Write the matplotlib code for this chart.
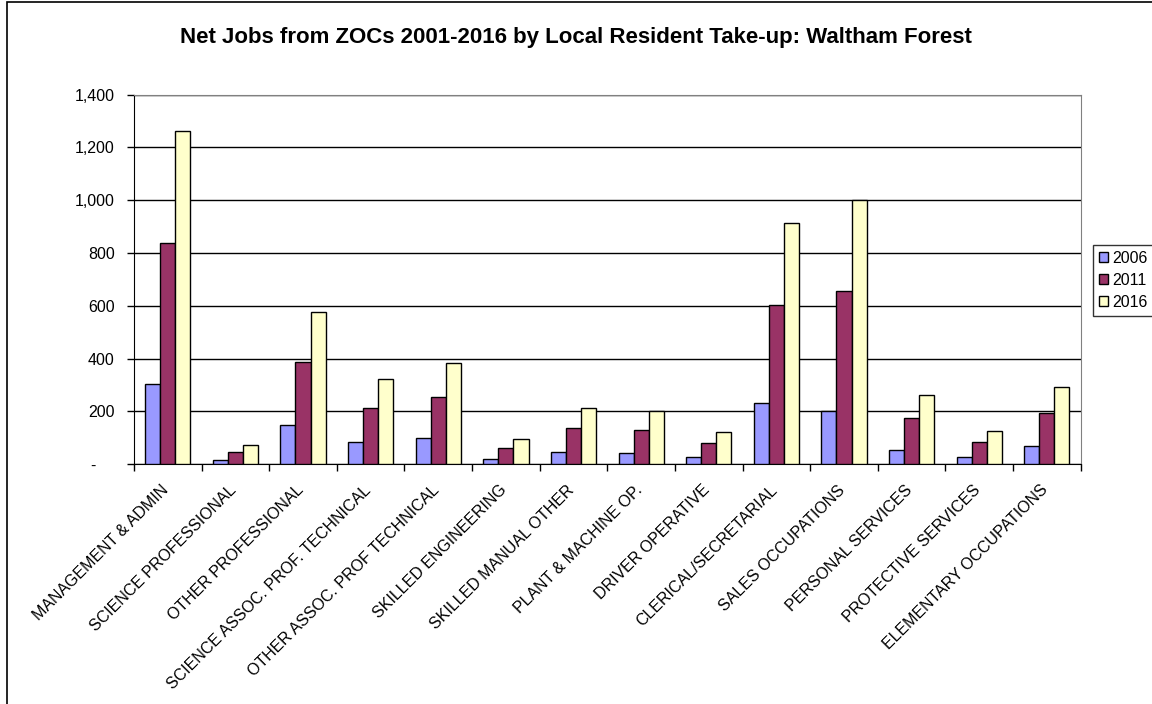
import numpy as np
import matplotlib.pyplot as plt
from matplotlib.patches import Rectangle
from matplotlib.ticker import FuncFormatter, FixedLocator
from matplotlib.transforms import ScaledTranslation

plt.rcParams['font.family'] = ['Liberation Sans', 'DejaVu Sans']

# ------------------------------------------------------------
# Data
# ------------------------------------------------------------
occupations = [
    "MANAGEMENT & ADMIN", "SCIENCE PROFESSIONAL", "OTHER PROFESSIONAL",
    "SCIENCE ASSOC. PROF. TECHNICAL", "OTHER ASSOC. PROF TECHNICAL",
    "SKILLED ENGINEERING", "SKILLED MANUAL OTHER", "PLANT & MACHINE OP.",
    "DRIVER OPERATIVE", "CLERICAL/SECRETARIAL", "SALES OCCUPATIONS",
    "PERSONAL SERVICES", "PROTECTIVE SERVICES", "ELEMENTARY OCCUPATIONS",
]
years = ["2006", "2011", "2016"]
jobs_2006 = [305, 18, 149, 85, 98, 20, 47, 43, 28, 231, 201, 56, 28, 71]
jobs_2011 = [840, 48, 386, 215, 254, 63, 138, 129, 82, 605, 655, 177, 85, 194]
jobs_2016 = [1264, 72, 578, 324, 383, 96, 212, 203, 124, 914, 1000, 263, 127, 294]
colors = ["#9999FF", "#993366", "#FFFFCC"]

# ------------------------------------------------------------
# Figure
# ------------------------------------------------------------
fig = plt.figure(figsize=(11.52, 7.04), dpi=100)
ax = fig.add_axes([0.1163, 0.3405, 0.8218, 0.525])

# outer chart border (runs off the right and bottom edges)
fig.patches.append(Rectangle((7 / 1152, -0.05), 1.1, 1.05 - 2 / 704,
                             transform=fig.transFigure, fill=False,
                             edgecolor="black", linewidth=1.2))

x = np.arange(len(occupations))
w = 0.223
for k, (vals, yr) in enumerate(zip([jobs_2006, jobs_2011, jobs_2016], years)):
    ax.bar(x + (k - 1) * w, vals, width=w, color=colors[k],
           edgecolor="black", linewidth=1.0, label=yr, zorder=3)

ax.set_xlim(-0.5, len(occupations) - 0.5)
ax.set_ylim(0, 1400)
ax.set_yticks(np.arange(0, 1401, 200))
ax.yaxis.set_major_formatter(FuncFormatter(
    lambda v, p: "-    " if v == 0 else f"{int(v):,}"))
ax.grid(axis="y", color="black", linewidth=1.0, zorder=0)

# category labels at centres, ticks on category boundaries
ax.set_xticks(x)
ax.set_xticklabels(occupations, rotation=45, ha="right", va="top",
                   rotation_mode="anchor", fontsize=11.5)
ax.tick_params(axis="x", which="major", length=0, pad=13)
shift = ScaledTranslation(-0.07, 0, fig.dpi_scale_trans)
for lbl in ax.get_xticklabels():
    lbl.set_transform(lbl.get_transform() + shift)
ax.xaxis.set_minor_locator(FixedLocator(np.arange(-0.5, len(occupations), 1.0)))
ax.tick_params(axis="x", which="minor", length=5, width=1, direction="out")
ax.tick_params(axis="y", length=5, width=1, direction="out", pad=9,
               labelsize=11.5)

for side in ["top", "right"]:
    ax.spines[side].set_color("#808080")
for side in ["left", "bottom"]:
    ax.spines[side].set_color("black")

fig.text(0.5, 1 - 37 / 704, "Net Jobs from ZOCs 2001-2016 by Local Resident Take-up: Waltham Forest",
         ha="center", va="center", fontsize=16, fontweight="bold")

leg = ax.legend(loc="upper left", bbox_to_anchor=(1093 / 1152, 1 - 245 / 704),
                bbox_transform=fig.transFigure, frameon=True, fancybox=False,
                fontsize=11.5, handlelength=0.6, handleheight=0.6,
                handletextpad=0.25, borderpad=0.35, labelspacing=0.45,
                borderaxespad=0)
leg.get_frame().set_edgecolor("black")
leg.get_frame().set_linewidth(1.0)

fig.savefig("out.png", dpi=100)
